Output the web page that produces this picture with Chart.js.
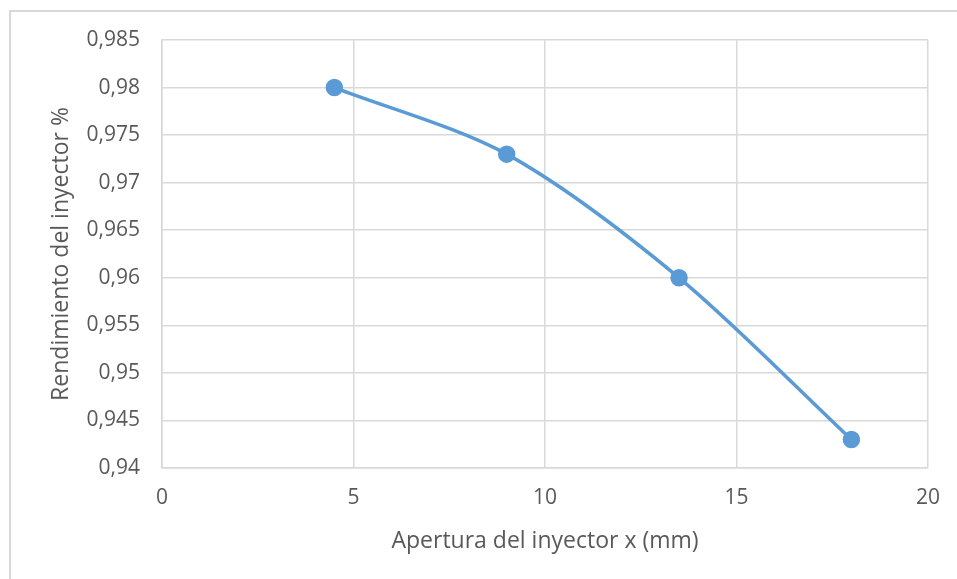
<!DOCTYPE html>
<html>
<head>
<meta charset="utf-8">
<script src="https://cdn.jsdelivr.net/npm/chart.js@4"></script>
<style>
  html, body { margin: 0; padding: 0; background: #fff; }
  #wrap { position: relative; width: 957px; height: 579px; overflow: hidden; }
  #frame { position: absolute; left: 9px; top: 10px; width: 960px; height: 600px; border: 2px solid #d9d9d9; box-sizing: border-box; }
  canvas { position: absolute; left: 0; top: 0; }
</style>
</head>
<body>
<div id="wrap">
  <div id="frame"></div>
  <canvas id="chart" width="957" height="579"></canvas>
</div>
<script>
// Apertura vs rendimiento del inyector
const apertura = [4.5, 9, 13.5, 18];
const rendimiento = [0.98, 0.973, 0.96, 0.943];
const xTicks = [0, 5, 10, 15, 20];
const yTicks = [0.94, 0.945, 0.95, 0.955, 0.96, 0.965, 0.97, 0.975, 0.98, 0.985];

const textColor = '#595959';
const gridColor = '#d9d9d9';
const tickFont = { family: 'Open Sans', size: 21 };
const titleFont = { family: 'Open Sans', size: 23 };

function coma(v) {
  return Number(v.toFixed(3)).toString().replace('.', ',');
}

const ctx = document.getElementById('chart').getContext('2d');
new Chart(ctx, {
  type: 'scatter',
  data: {
    datasets: [{
      data: apertura.map((x, i) => ({ x: x, y: rendimiento[i] })),
      showLine: true,
      borderColor: '#5b9bd5',
      backgroundColor: '#5b9bd5',
      borderWidth: 3.5,
      pointRadius: 7,
      pointHoverRadius: 7,
      tension: 0.3,
    }],
  },
  options: {
    responsive: false,
    animation: false,
    layout: { padding: { left: 0, top: 40, right: 22, bottom: 0 } },
    plugins: { legend: { display: false }, tooltip: { enabled: false } },
    scales: {
      x: {
        type: 'linear',
        min: xTicks[0],
        max: xTicks[xTicks.length - 1],
        afterBuildTicks: (axis) => { axis.ticks = xTicks.map(v => ({ value: v })); },
        afterFit: (axis) => { axis.height = 111; },
        grid: { color: gridColor, lineWidth: 1.5, drawTicks: false },
        border: { color: gridColor, width: 1.5 },
        ticks: { color: textColor, font: tickFont, padding: 17 },
        title: { display: true, text: 'Apertura del inyector x (mm)', color: textColor, font: titleFont, padding: { top: 4, bottom: 24 } },
      },
      y: {
        min: yTicks[0],
        max: yTicks[yTicks.length - 1],
        afterBuildTicks: (axis) => { axis.ticks = yTicks.map(v => ({ value: v })); },
        afterFit: (axis) => { axis.width = 162; },
        grid: { color: gridColor, lineWidth: 1.5, drawTicks: false },
        border: { color: gridColor, width: 1.5 },
        ticks: { color: textColor, font: tickFont, padding: 22, callback: (v) => coma(v) },
        title: { display: true, text: 'Rendimiento del inyector %', color: textColor, font: titleFont, padding: { top: 48, bottom: 0 } },
      },
    },
  },
});
</script>
</body>
</html>
